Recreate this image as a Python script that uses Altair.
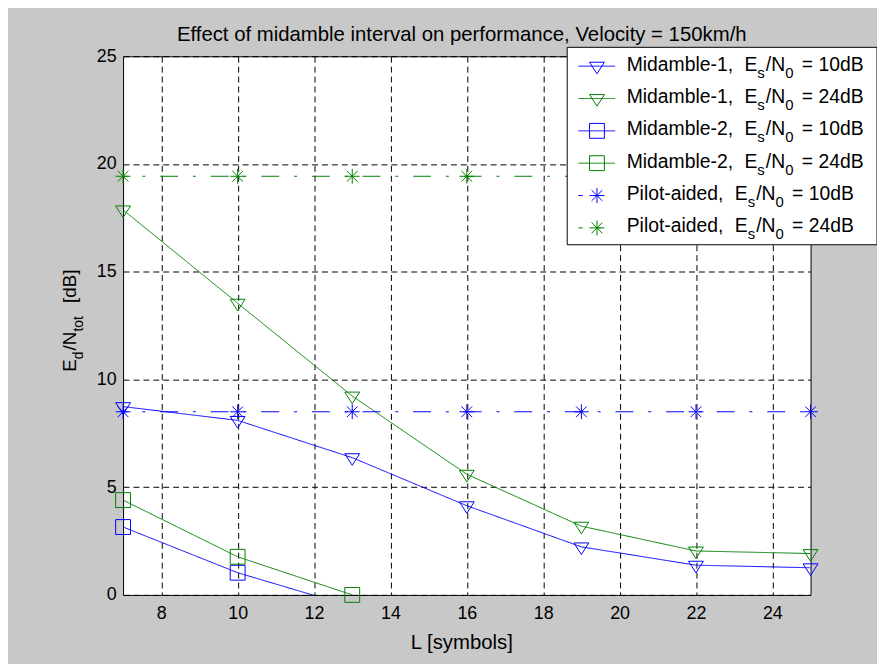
import altair as alt
import pandas as pd

# ---------------- data ----------------
L_all = [7, 10, 13, 16, 19, 22, 25]
mid1_10 = [8.74, 8.10, 6.37, 4.14, 2.23, 1.38, 1.26]
mid1_24 = [17.87, 13.54, 9.23, 5.60, 3.19, 2.04, 1.92]
L_mid2 = [7, 10, 13]
mid2_10 = [3.15, 1.03, -0.55]
mid2_24 = [4.40, 1.77, 0.00]
pilot_10 = [8.50, 8.50, 8.50, 8.50, 8.50, 8.50, 8.50]
pilot_24 = [19.43, 19.43, 19.43, 19.43, 19.43, 19.43, 19.43]

series_keys = ["m1_10", "m1_24", "m2_10", "m2_24", "p_10", "p_24"]
legend_names = ["Midamble-1", "Midamble-1", "Midamble-2", "Midamble-2",
                "Pilot-aided", "Pilot-aided"]
legend_snr = ["10dB", "24dB", "10dB", "24dB", "10dB", "24dB"]

x_ticks = [8, 10, 12, 14, 16, 18, 20, 22, 24]
y_ticks = [0, 5, 10, 15, 20, 25]

title_text = "Effect of midamble interval on performance, Velocity = 150km/h"
x_title = "L [symbols]"

# ---------------- tables ----------------
series_x = [L_all, L_all, L_mid2, L_mid2, L_all, L_all]
series_y = [mid1_10, mid1_24, mid2_10, mid2_24, pilot_10, pilot_24]
rows = []
for key, xs, ys in zip(series_keys, series_x, series_y):
    for xv, yv in zip(xs, ys):
        rows.append({"s": key, "L": xv, "v": yv})
df = pd.DataFrame(rows)

# ---------------- styles ----------------
W, H = 693, 543
BLUE, GREEN = "#0000ff", "#008000"
colors = [BLUE, GREEN, BLUE, GREEN, BLUE, GREEN]
TRI = "M-1,-0.53L1,-0.53L0,1.03Z"
STAR = "M-1,0L1,0M0,-1L0,1M-0.72,-0.72L0.72,0.72M-0.72,0.72L0.72,-0.72"
shapes = [TRI, TRI, "square", "square", STAR, STAR]
sizes = [225, 225, 156, 156, 100, 100]
DASHDOT = [18, 15, 3, 15]
dashes = [[1, 0], [1, 0], [1, 0], [1, 0], DASHDOT, DASHDOT]
FONT = "Liberation Sans"

color_enc = alt.Color("s:N", scale=alt.Scale(domain=series_keys, range=colors), legend=None)
shape_enc = alt.Shape("s:N", scale=alt.Scale(domain=series_keys, range=shapes), legend=None)
size_enc = alt.Size("s:N", scale=alt.Scale(domain=series_keys, range=sizes), legend=None)
dash_enc = alt.StrokeDash("s:N", scale=alt.Scale(domain=series_keys, range=dashes), legend=None)

x_enc = alt.X("L:Q", scale=alt.Scale(domain=[7, 25], nice=False, zero=False),
              axis=alt.Axis(values=x_ticks, title=None, labelPadding=10, labelFlush=False))
y_enc = alt.Y("v:Q", scale=alt.Scale(domain=[0, 25], nice=False, zero=False),
              axis=alt.Axis(values=y_ticks, title=None, labelPadding=7, labelFlush=False))

lines = alt.Chart(df).mark_line(strokeWidth=1, clip=True, strokeDashOffset=13.6).encode(
    x=x_enc, y=y_enc, color=color_enc, strokeDash=dash_enc, order=alt.Order("L:Q"))
# markers outside the axes are not drawn, those inside are drawn whole
points = alt.Chart(df).transform_filter("datum.v >= 0").mark_point(
    filled=False, strokeWidth=1, clip=False, opacity=1).encode(
    x=x_enc, y=y_enc, color=color_enc, shape=shape_enc, size=size_enc)

# ---------------- text metrics (Arial / Liberation Sans) ----------------
CW = {' ': 278, ',': 278, '-': 333, '/': 278, '=': 584, '[': 278, ']': 278,
      '0': 556, '1': 556, '2': 556, '4': 556, 'B': 667, 'E': 667, 'M': 833,
      'N': 722, 'P': 667, 'a': 556, 'b': 556, 'd': 556, 'e': 556, 'i': 222,
      'l': 222, 'm': 833, 'o': 556, 's': 500, 't': 278}


def tw(s, fs):
    return sum(CW.get(c, 556) for c in s) * fs / 1000.0


# ---------------- legend (pixel layout) ----------------
row_y = [10, 42.6, 75.2, 107.8, 140.4, 173]
box_df = pd.DataFrame({"px": [447.7], "px2": [760], "py": [-9], "py2": [190]})
leg_lines = pd.DataFrame({"s": series_keys, "px": [459] * 6, "px2": [496] * 6, "py": row_y})
leg_marks = pd.DataFrame({"s": series_keys, "px": [477.7] * 6, "py": row_y})

MS, SS = 19.5, 15
pieces = []
for i in range(6):
    bl = row_y[i] + 4.5
    x = 507.7
    head = legend_names[i] + ","
    pieces.append((head, x, bl, MS, 0))
    x += tw(head, MS) + tw(" ", MS) + 6
    pieces.append(("E", x, bl, MS, 0))
    x += tw("E", MS)
    pieces.append(("s", x, bl + 7, SS, 0))
    x += tw("s", SS) + 1
    pieces.append(("/N", x, bl, MS, 0))
    x += tw("/N", MS)
    pieces.append(("0", x, bl + 7, SS, 0))
    x += tw("0", SS) + tw(" ", MS) + 3
    pieces.append(("= " + legend_snr[i], x, bl, MS, 0))

# y-axis title E_d/N_tot [dB], rotated
YS, YSS = 19, 14
yx, ysub = -47, -40
cum = 0.0
pieces.append(("E", yx, 318 - cum, YS, 270)); cum += tw("E", YS)
pieces.append(("d", ysub, 318 - cum, YSS, 270)); cum += tw("d", YSS) + 1
pieces.append(("/N", yx, 318 - cum, YS, 270)); cum += tw("/N", YS)
pieces.append(("tot", ysub, 318 - cum, YSS, 270)); cum += tw("tot", YSS) + tw(" ", YS) + 8
pieces.append(("[dB]", yx, 318 - cum, YS, 270))

txt_df = pd.DataFrame(pieces, columns=["txt", "px", "py", "fs", "ang"])
ctr_df = pd.DataFrame({"txt": [title_text, x_title], "px": [341.4, 341.5],
                       "py": [-15.7, 597.7], "fs": [20.5, 20.5]})

px = lambda f: alt.X(f, scale=None, axis=None)
py = lambda f: alt.Y(f, scale=None, axis=None)

box = alt.Chart(box_df).mark_rect(fill="white", stroke="black", strokeWidth=1).encode(
    x=px("px:Q"), x2="px2:Q", y=py("py:Q"), y2="py2:Q")
leg_l = alt.Chart(leg_lines).mark_rule(strokeWidth=1, strokeDashOffset=13.6).encode(
    x=px("px:Q"), x2="px2:Q", y=py("py:Q"), color=color_enc, strokeDash=dash_enc)
leg_p = alt.Chart(leg_marks).mark_point(filled=False, strokeWidth=1, opacity=1).encode(
    x=px("px:Q"), y=py("py:Q"), color=color_enc, shape=shape_enc, size=size_enc)
texts = alt.Chart(txt_df).mark_text(align="left", baseline="alphabetic", color="black",
                                    font=FONT).encode(
    x=px("px:Q"), y=py("py:Q"), text="txt:N",
    size=alt.Size("fs:Q", scale=None, legend=None),
    angle=alt.Angle("ang:Q", scale=None, legend=None))
ctexts = alt.Chart(ctr_df).mark_text(align="center", baseline="alphabetic", color="black",
                                     font=FONT).encode(
    x=px("px:Q"), y=py("py:Q"), text="txt:N",
    size=alt.Size("fs:Q", scale=None, legend=None))

chart = alt.layer(lines, points, box, leg_l, leg_p, texts, ctexts).properties(
    width=W, height=H,
    autosize=alt.AutoSizeParams(type="none"),
    padding={"left": 116, "top": 46, "right": 67, "bottom": 67},
    background="#c8c8c8",
).configure_view(
    fill="white", stroke="black", strokeWidth=1
).configure_axis(
    domain=False, ticks=False, grid=True, gridColor="#000000", gridDash=[6, 4],
    gridWidth=1, gridOpacity=1, labelFont=FONT, labelFontSize=18,
    labelColor="#000000"
)

chart.save("out.html", embed_options={"renderer": "svg", "actions": False})
